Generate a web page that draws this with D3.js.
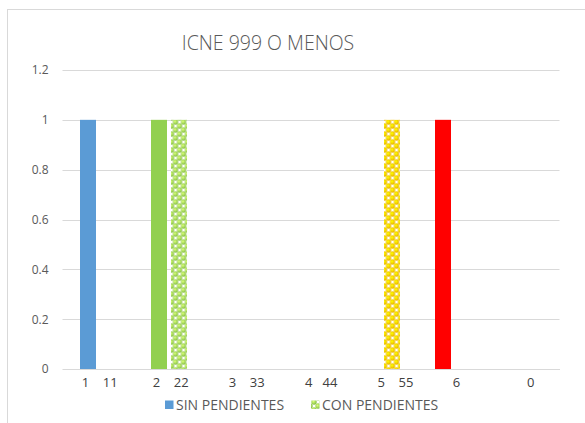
<!DOCTYPE html>
<html>
<head>
<meta charset="utf-8">
<script src="https://cdn.jsdelivr.net/npm/d3@7/dist/d3.min.js"></script>
<style>
  html, body { margin: 0; padding: 0; background: #fff; }
  svg { display: block; font-family: "Open Sans", "Liberation Sans", sans-serif; }
  .xlab { white-space: pre; }
</style>
</head>
<body>
<svg id="chart" width="585" height="423"></svg>
<script>
// Chart content
const title = "ICNE 999 O MENOS";
const categories = [" 1    11", " 2    22", "    3    33", "      4   44", "        5    55", "  6", "    0"];
const seriesNames = ["SIN PENDIENTES", "CON PENDIENTES"];
const sinValues = [1, 1, 0, 0, 0, 1, 0];
const conValues = [0, 1, 0, 0, 1, 0, 0];
const yTicks = [0, 0.2, 0.4, 0.6, 0.8, 1, 1.2];

// Per-point fill colours (solid for SIN, sphere pattern tint for CON)
const sinColors = ["#5b9bd5", "#92d050", "#5b9bd5", "#5b9bd5", "#5b9bd5", "#ff0000", "#5b9bd5"];
const conColors = ["#92d050", "#92d050", "#92d050", "#92d050", "#ffc000", "#92d050", "#92d050"];

const svg = d3.select("#chart");

// Outer chart frame
svg.append("rect")
  .attr("x", 7.5).attr("y", 9.5)
  .attr("width", 600).attr("height", 430)
  .attr("fill", "#fff").attr("stroke", "#d9d9d9");

const plot = { left: 62.5, right: 559.5, top: 70, bottom: 369 };

const x0 = d3.scaleBand().domain(categories).range([plot.left, plot.right]);
const x1 = d3.scaleBand().domain(["sin", "con"]).range([0, x0.bandwidth()])
  .paddingInner(0.2).paddingOuter(0.875);
const y = d3.scaleLinear().domain([0, 1.2]).range([plot.bottom, plot.top]);

// Sphere patterns
const defs = svg.append("defs");
function spherePattern(id, color) {
  const grad = defs.append("radialGradient").attr("id", id + "-g")
    .attr("cx", "40%").attr("cy", "40%").attr("r", "60%");
  grad.append("stop").attr("offset", "0%").attr("stop-color", d3.color(color).brighter(1.1));
  grad.append("stop").attr("offset", "100%").attr("stop-color", d3.color(color).darker(0.25));
  const p = defs.append("pattern").attr("id", id)
    .attr("patternUnits", "userSpaceOnUse").attr("width", 8).attr("height", 8);
  p.append("rect").attr("width", 8).attr("height", 8).attr("fill", "#fff");
  [[2, 2], [6, 6], [6, -2], [-2, 6], [10, 6], [6, 10], [2, 10], [10, 2]].forEach(([cx, cy]) => {
    p.append("circle").attr("cx", cx).attr("cy", cy).attr("r", 2.7)
      .attr("fill", `url(#${id}-g)`);
  });
}
const patternColors = Array.from(new Set(conColors));
patternColors.forEach((c, i) => spherePattern("sph" + i, c));
const patternFor = c => `url(#sph${patternColors.indexOf(c)})`;

// Gridlines
svg.append("g")
  .selectAll("line").data(yTicks).join("line")
  .attr("x1", plot.left).attr("x2", plot.right)
  .attr("y1", d => Math.round(y(d)) + 0.5).attr("y2", d => Math.round(y(d)) + 0.5)
  .attr("stroke", "#d9d9d9").attr("stroke-width", 1);

// Y axis labels
const yAxis = svg.append("g")
  .attr("transform", `translate(${plot.left},0)`)
  .call(d3.axisLeft(y).tickValues(yTicks).tickSize(0).tickPadding(14)
    .tickFormat(d => d3.format("~g")(d)));
yAxis.select(".domain").remove();
yAxis.selectAll("text").attr("fill", "#595959").style("font-size", "12px")
  .style("font-family", "'Open Sans', sans-serif");

// Bars
const groups = svg.append("g").selectAll("g").data(categories).join("g")
  .attr("transform", d => `translate(${x0(d)},0)`);

groups.append("rect")
  .attr("x", x1("sin")).attr("width", x1.bandwidth())
  .attr("y", (d, i) => y(sinValues[i]))
  .attr("height", (d, i) => y(0) - y(sinValues[i]))
  .attr("fill", (d, i) => sinColors[i]);

groups.append("rect")
  .attr("x", x1("con")).attr("width", x1.bandwidth())
  .attr("y", (d, i) => y(conValues[i]))
  .attr("height", (d, i) => y(0) - y(conValues[i]))
  .attr("fill", (d, i) => patternFor(conColors[i]));

// X axis
const xAxis = svg.append("g")
  .attr("transform", `translate(0,${plot.bottom})`)
  .call(d3.axisBottom(x0).tickSize(0).tickPadding(9));
xAxis.select(".domain").attr("stroke", "#d9d9d9");
xAxis.selectAll("text").attr("class", "xlab").attr("fill", "#404040")
  .style("font-size", "13px").style("font-family", "'Open Sans', sans-serif");

// Title
svg.append("text")
  .attr("x", 268).attr("y", 50)
  .attr("text-anchor", "middle")
  .attr("fill", "#595959")
  .style("font-size", "19.5px").style("font-weight", 300)
  .text(title);

// Legend
const legend = svg.append("g");
const legendItems = [
  { name: seriesNames[0], fill: sinColors[0], x: 165 },
  { name: seriesNames[1], fill: patternFor(conColors[1]), x: 311 }
];
legendItems.forEach(it => {
  legend.append("rect").attr("x", it.x).attr("y", 400.5).attr("width", 8.5).attr("height", 8.5)
    .attr("fill", it.fill);
  legend.append("text").attr("x", it.x + 11).attr("y", 409.5)
    .attr("fill", "#595959").style("font-size", "14px")
    .text(it.name);
});
</script>
</body>
</html>
